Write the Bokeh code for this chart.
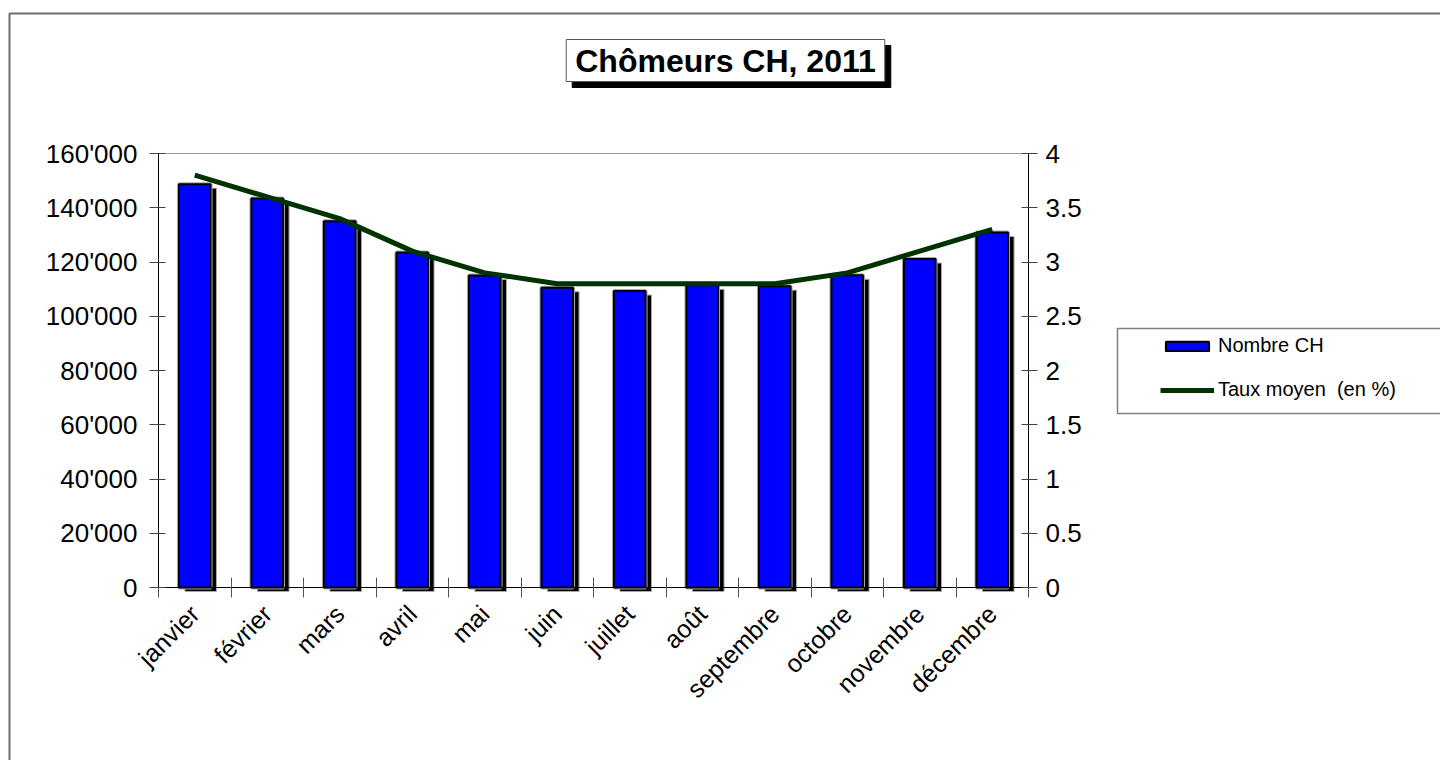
import math
from bokeh.plotting import figure
from bokeh.models import (Range1d, LinearAxis, FixedTicker, BoxAnnotation, Label,
                          Legend, LegendItem)
from bokeh.embed import file_html
from bokeh.resources import INLINE

months = ["janvier", "février", "mars", "avril", "mai", "juin", "juillet",
          "août", "septembre", "octobre", "novembre", "décembre"]
chomeurs = [148700, 143400, 135000, 123500, 115000, 110500, 109300,
            111400, 111100, 115100, 121100, 130900]
taux = [3.8, 3.6, 3.4, 3.1, 2.9, 2.8, 2.8, 2.8, 2.8, 2.9, 3.1, 3.3]
left_ticks = [0, 20000, 40000, 60000, 80000, 100000, 120000, 140000, 160000]
right_ticks = [0, 0.5, 1, 1.5, 2, 2.5, 3, 3.5, 4]
title_text = "Chômeurs CH, 2011"

FONT = "Liberation Sans"
W, H = 1440, 760
n = len(months)
centers = [i + 0.5 for i in range(n)]
bounds = [i for i in range(n + 1)]

# plot-area placement in pixels
PX_L, PX_R, PX_T, PX_B = 158, 1028, 153, 587
ymax = left_ticks[-1]
rmax = right_ticks[-1]
ux = (PX_R - PX_L) / n                 # px per category
uy = (PX_B - PX_T) / ymax              # px per person
ur = (PX_B - PX_T) / rmax              # px per percent

x_range = Range1d(-PX_L / ux, n + (W - PX_R) / ux)
y_range = Range1d(-(H - PX_B) / uy, ymax + PX_T / uy)
r_range = Range1d(-(H - PX_B) / ur, rmax + PX_T / ur)

p = figure(width=W, height=H, x_range=x_range, y_range=y_range,
           output_backend="svg", toolbar_location=None,
           min_border=0, min_border_left=0, min_border_right=0,
           min_border_top=0, min_border_bottom=0)
p.xgrid.visible = False
p.ygrid.visible = False
p.outline_line_color = None
p.background_fill_color = "white"
p.border_fill_color = "white"
p.extra_y_ranges = {"rate": r_range}

# top edge of plot area
p.segment(x0=[bounds[0]], x1=[bounds[-1]], y0=[ymax], y1=[ymax],
          line_color="#999999", line_width=1)

# bars: shadow, halo, main
sh_dx = 6 / ux
sh_dy = 4 / uy
shadow_x = [c + sh_dx for c in centers]
shadow_top = [v - sh_dy for v in chomeurs]
p.vbar(x=shadow_x, top=shadow_top, bottom=-sh_dy, width=0.436,
       fill_color="black", line_color="#aaaaaa", line_width=1)
p.vbar(x=centers, top=chomeurs, bottom=0, width=0.436,
       fill_color="#0000ff", line_color="#aaaaaa", line_width=4)
bars = p.vbar(x=centers, top=chomeurs, bottom=0, width=0.436,
              fill_color="#0000ff", line_color="black", line_width=2)

line = p.line(x=centers, y=taux, y_range_name="rate", line_color="#003300",
              line_width=5)

# x axis
xa = p.xaxis[0]
xa.fixed_location = 0
xa.bounds = (bounds[0], bounds[-1])
xa.ticker = FixedTicker(ticks=centers, minor_ticks=bounds)
xa.major_label_overrides = {c: m for c, m in zip(centers, months)}
xa.major_tick_line_color = None
xa.major_tick_in = 0
xa.major_tick_out = 0
xa.minor_tick_in = 10
xa.minor_tick_out = 10
xa.minor_tick_line_color = "#555555"
xa.axis_line_color = "black"
xa.major_label_orientation = math.pi / 4
xa.major_label_text_font = FONT
xa.major_label_text_font_size = "25px"
xa.major_label_text_color = "black"
xa.major_label_standoff = 12

# left axis
ya = p.yaxis[0]
ya.fixed_location = bounds[0]
ya.bounds = (0, ymax)
ya.ticker = FixedTicker(ticks=left_ticks)
ya.major_label_overrides = {v: f"{v:,}".replace(",", "'") for v in left_ticks}
ya.major_tick_in = 7
ya.major_tick_out = 9
ya.major_tick_line_color = "#444444"
ya.minor_tick_line_color = None
ya.axis_line_color = "black"
ya.major_label_text_font = FONT
ya.major_label_text_font_size = "26px"
ya.major_label_text_color = "black"
ya.major_label_standoff = 12

# right axis
ra = LinearAxis(y_range_name="rate", ticker=FixedTicker(ticks=right_ticks),
                fixed_location=bounds[-1], bounds=(0, rmax))
ra.major_label_overrides = {v: f"{v:g}" for v in right_ticks}
ra.major_tick_in = 7
ra.major_tick_out = 9
ra.major_tick_line_color = "#444444"
ra.minor_tick_line_color = None
ra.axis_line_color = "black"
ra.major_label_text_font = FONT
ra.major_label_text_font_size = "26px"
ra.major_label_text_color = "black"
ra.major_label_standoff = 8
p.add_layout(ra, "right")

# outer chart border
p.add_layout(BoxAnnotation(left=9, top=13, right=3000, bottom=3000,
                           left_units="canvas", right_units="canvas",
                           top_units="canvas", bottom_units="canvas",
                           fill_alpha=0, line_color="#6e6e6e", line_alpha=1,
                           line_width=2))

# title box with shadow
p.add_layout(Label(x=731, y=66, x_units="canvas", y_units="canvas", text=title_text,
                   text_align="center", text_baseline="middle", text_font=FONT,
                   text_font_style="bold", text_font_size="32px", text_color="black",
                   background_fill_color="black", border_line_color="black",
                   padding=(9, 3)))
p.add_layout(Label(x=725, y=60, x_units="canvas", y_units="canvas", text=title_text,
                   text_align="center", text_baseline="middle", text_font=FONT,
                   text_font_style="bold", text_font_size="32px", text_color="black",
                   background_fill_color="white", border_line_color="#555555",
                   border_line_width=1, padding=(9, 3)))

# legend box
p.add_layout(BoxAnnotation(left=1117, right=1500, top=328, bottom=413,
                           left_units="canvas", right_units="canvas",
                           top_units="canvas", bottom_units="canvas",
                           fill_color="white", fill_alpha=1,
                           line_color="#808080", line_alpha=1, line_width=1.5))

legend = Legend(items=[LegendItem(label="Nombre CH", renderers=[bars]),
                       LegendItem(label="Taux moyen  (en %)", renderers=[line])],
                location=(1160, H - 401), border_line_color=None,
                background_fill_alpha=0, padding=0, margin=0, spacing=21,
                glyph_width=54, glyph_height=12, label_height=22,
                label_standoff=4, label_text_font=FONT,
                label_text_font_size="20px", label_text_color="black")
p.add_layout(legend)

open("out.html", "w").write(file_html(p, INLINE))
